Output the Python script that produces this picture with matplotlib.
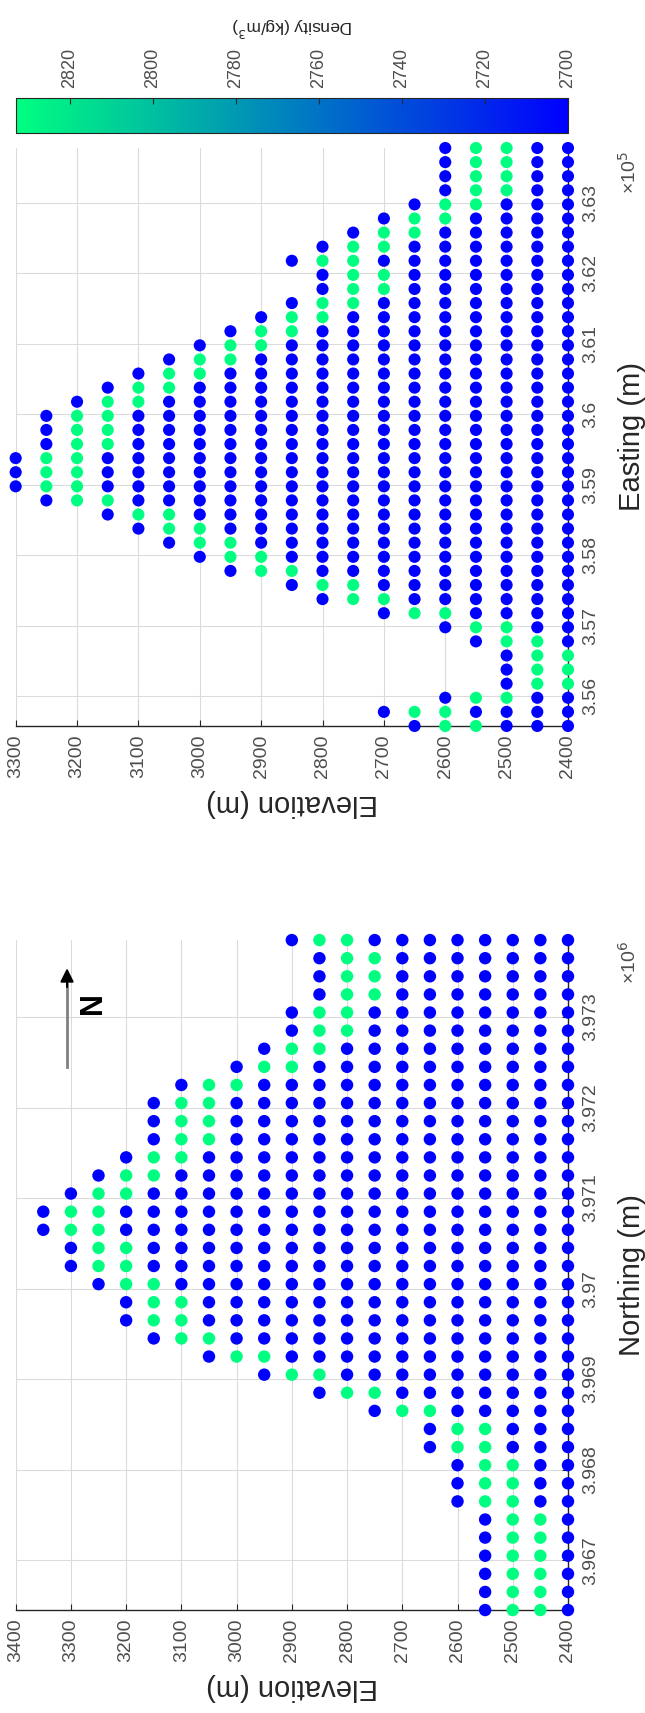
import numpy as np
import matplotlib
matplotlib.use('Agg')
import matplotlib.pyplot as plt

plt.rcParams['font.family'] = ['Liberation Sans', 'DejaVu Sans']

# model grid rows, 200 m apart (bottom to top of each section)
northing = np.arange(3966450, 3973851, 200)   # 38 rows
easting = np.arange(355580, 363781, 200)      # 42 rows

# elevation (m) of the top cell in every row, bottom row first
north_top = [2550, 2550, 2550, 2550, 2550, 2550, 2600, 2600, 2600, 2650,
             2650, 2750, 2850, 2950, 3050, 3150, 3200, 3200, 3250, 3300,
             3300, 3350, 3350, 3300, 3250, 3200, 3150, 3150, 3150, 3100,
             3000, 2950, 2900, 2900, 2850, 2850, 2850, 2900]
east_top = [2650, 2700, 2600, 2500, 2500, 2500, 2550, 2600, 2700, 2800,
            2850, 2950, 3000, 3050, 3100, 3150, 3250, 3300, 3300, 3300,
            3250, 3250, 3250, 3200, 3150, 3100, 3050, 3000, 2950, 2900,
            2850, 2800, 2800, 2850, 2800, 2750, 2700, 2650, 2600, 2600,
            2600, 2600]

# density of the cells going down from the surface, then the rest
surface_density = [2700, 2833, 2833]
base_density = 2700
elev_step = 50
elev_floor = 2400

cb_ticks = [2700, 2720, 2740, 2760, 2780, 2800, 2820]
north_ticks = [3967000, 3968000, 3969000, 3970000, 3971000, 3972000, 3973000]
east_ticks = [356000, 357000, 358000, 359000, 360000, 361000, 362000, 363000]


def section(pos, tops):
    zs, ps, ds = [], [], []
    for p, top in zip(pos, tops):
        levels = np.arange(top, elev_floor - 1, -elev_step)
        for k, z in enumerate(levels):
            zs.append(z)
            ps.append(p)
            ds.append(surface_density[k] if k < len(surface_density) else base_density)
    return np.array(zs), np.array(ps), np.array(ds)


def style(ax, zmax, pticks, scale, offset):
    ax.set_xlim(zmax, elev_floor)
    ax.set_xticks(np.arange(elev_floor, zmax + 1, 100))
    ax.set_yticks(pticks)
    ax.set_yticklabels(['%g' % (t / scale) for t in pticks])
    ax.grid(True, color='0.86', lw=0.8)
    ax.set_axisbelow(True)
    for s in ['top', 'left']:
        ax.spines[s].set_visible(False)
    for s in ['bottom', 'right']:
        ax.spines[s].set_color('0.15')
        ax.spines[s].set_linewidth(1.0)
    ax.yaxis.tick_right()
    ax.yaxis.set_label_position('right')
    ax.tick_params(axis='x', direction='in', length=4, pad=6, labelrotation=90,
                   labelsize=14, colors='0.15', labelcolor='0.3')
    ax.tick_params(axis='y', direction='in', length=4, pad=10, labelrotation=90,
                   labelsize=14, colors='0.15', labelcolor='0.3')
    for lbl in ax.get_yticklabels():
        lbl.set_verticalalignment('center')
    ax.text(1.11, offset, '×10$^{%d}$' % round(np.log10(scale)), transform=ax.transAxes,
            rotation=90, ha='center', va='center', fontsize=14, color='0.3')


fig = plt.figure(figsize=(6.45, 17.13), dpi=100)
L, W = 0.0243, 0.8563

ax_n = fig.add_axes([L, 0.0601, W, 0.3911])
ax_e = fig.add_axes([L, 0.5762, W, 0.3374])
cax = fig.add_axes([L, 0.9224, W, 0.0204])

zn, pn, dn = section(northing, north_top)
ze, pe, de = section(easting, east_top)

sc = ax_n.scatter(zn, pn, c=dn, cmap='winter', vmin=2700, vmax=2833, s=80,
                  edgecolors='none', zorder=3, clip_on=False)
ax_e.scatter(ze, pe, c=de, cmap='winter', vmin=2700, vmax=2833, s=76,
             edgecolors='none', zorder=3, clip_on=False)

ax_n.set_ylim(northing.min(), northing.max())
ax_e.set_ylim(easting.min(), easting.max())
style(ax_n, 3400, north_ticks, 1e6, 0.966)
style(ax_e, 3300, east_ticks, 1e5, 0.957)

ax_n.set_xlabel('Elevation (m)', rotation=180, fontsize=21, labelpad=8, color='0.15')
ax_e.set_xlabel('Elevation (m)', rotation=180, fontsize=21, labelpad=8, color='0.15')
ax_n.set_ylabel('Northing (m)', rotation=90, fontsize=21, labelpad=14, color='0.15')
ax_e.set_ylabel('Easting (m)', rotation=90, fontsize=21, labelpad=14, color='0.15')

# north arrow: grey shaft, black head
ax_n.plot([0.093, 0.093], [0.810, 0.935], transform=ax_n.transAxes, color='0.5', lw=2,
          clip_on=False)
ax_n.annotate('', xy=(0.093, 0.958), xytext=(0.093, 0.930), xycoords='axes fraction',
              arrowprops=dict(arrowstyle='-|>', color='black', lw=1.5, mutation_scale=20,
                              shrinkA=0, shrinkB=0))
ax_n.text(0.14, 0.906, 'N', transform=ax_n.transAxes, rotation=90, ha='center',
          va='center', fontsize=22, fontweight='bold')

cb = fig.colorbar(sc, cax=cax, orientation='horizontal', ticklocation='top')
cax.invert_xaxis()
cb.set_ticks(cb_ticks)
cb.outline.set_edgecolor('0.15')
cax.tick_params(axis='x', direction='in', length=4, pad=7, labelrotation=90,
                labelsize=13, colors='0.15', labelcolor='0.3')
cb.set_label('Density (kg/m$^3$)', rotation=180, fontsize=12.5, labelpad=11, color='0.15')

fig.savefig('out.png', dpi=100)
